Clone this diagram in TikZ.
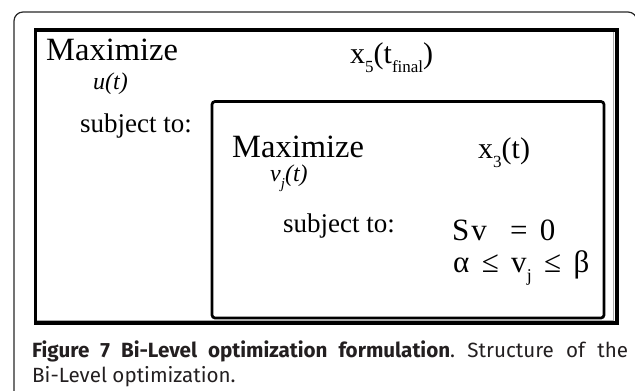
\documentclass[tikz,border=0pt]{standalone}
\usepackage{fontspec}
\setmainfont{Liberation Serif}
\newfontfamily\captionfont[Ligatures=NoCommon]{Fira Sans}
\usetikzlibrary{positioning}
\definecolor{framegray}{RGB}{40,40,40}
\definecolor{bevelgray}{RGB}{170,170,170}
\definecolor{captiontext}{RGB}{35,31,32}
% subscript set low, as in the drawing
\newcommand{\dropsub}[2][17]{\raisebox{-0.3em}{\fontsize{#1}{#1}\selectfont #2}}

\begin{document}
\begin{tikzpicture}[x=1pt, y=-1pt,
    every node/.style={inner sep=0pt, anchor=base west},
    bigword/.style={font=\fontsize{32.5}{32.5}\selectfont},
    midword/.style={font=\fontsize{27}{27}\selectfont},
    varword/.style={font=\fontsize{24}{24}\selectfont\itshape},
    formula/.style={font=\fontsize{30}{30}\selectfont},
    constraint/.style={font=\fontsize{31}{31}\selectfont}]
  \clip (0,0) rectangle (635,391);
  % frame round the figure
  \draw[framegray, line width=1.2pt, rounded corners=9pt] (14,400) -- (14,12) -- (637,12) -- (637,400);
  % outer problem
  \draw[bevelgray, line width=1.3pt] (37,320.5) -- (613.5,320.5) -- (613.5,32);
  \draw[line width=3.3pt] (35.5,30) rectangle (617,323);
  \node[bigword] (outermax) at (46,60) {Maximize};
  \node[varword] (outervar) at (93,89) {u(t)};
  \node[formula] (outerobj) at (350,63) {x\dropsub{5}(t\dropsub{final})};
  \node[midword] (outersubj) at (80,132) {subject to:};
  % inner problem
  \draw[line width=2.7pt, rounded corners=3pt] (212,101.5) rectangle (604,318);
  \node[bigword] (innermax) at (232,157) {Maximize};
  \node[varword] (innervar) at (270,181) {v\dropsub[15]{j}(t)};
  \node[formula] (innerobj) at (478,158) {x\dropsub{3}(t)};
  \node[midword] (innersubj) at (283,232) {subject to:};
  \node[constraint] (balance) at (452,240) {S\hspace{0.06em}v\hspace{0.75em}=\hspace{0.4em}0};
  \node[constraint] (bounds) at (453,272) {α\hspace{0.4em}≤\hspace{0.4em}v\dropsub[18]{j}\hspace{0.4em}≤\hspace{0.4em}β};
  % caption
  \node[anchor=north west, text width=596pt, align=justify, text=captiontext,
    font=\captionfont\fontsize{20.6}{25}\selectfont] (caption) at (32,341)
    {\textbf{Figure 7 Bi-Level optimization formulation}.\ Structure of the\linebreak Bi-Level optimization.};
\end{tikzpicture}
\end{document}
